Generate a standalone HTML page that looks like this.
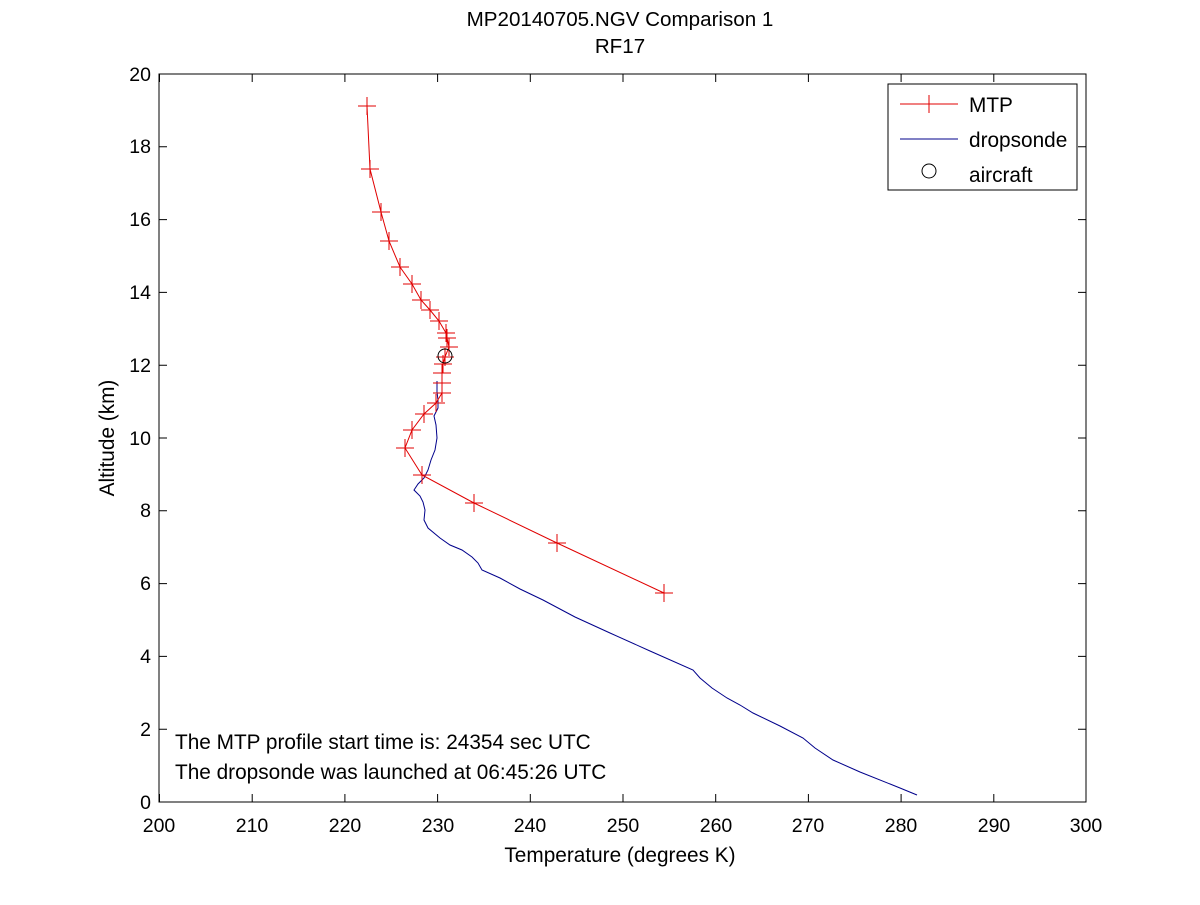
<!DOCTYPE html>
<html><head><style>body{margin:0;background:#fff}</style></head><body>
<svg width="1200" height="900" xmlns="http://www.w3.org/2000/svg" font-family="Liberation Sans, Arial, sans-serif">
<rect width="1200" height="900" fill="#fff"/>
<rect x="159" y="74" width="927" height="728" fill="#fff" stroke="#000" stroke-width="1"/>
<g stroke="#000" stroke-width="1">
<path d="M159.5 802v-8M252.2 802v-8M344.9 802v-8M437.6 802v-8M530.3 802v-8M623 802v-8M715.7 802v-8M808.4 802v-8M901.1 802v-8M993.8 802v-8M159.5 74v8M252.2 74v8M344.9 74v8M437.6 74v8M530.3 74v8M623 74v8M715.7 74v8M808.4 74v8M901.1 74v8M993.8 74v8"/>
<path d="M159 729.2h8M159 656.4h8M159 583.6h8M159 510.8h8M159 438h8M159 365.2h8M159 292.4h8M159 219.6h8M159 146.8h8M1086 729.2h-8M1086 656.4h-8M1086 583.6h-8M1086 510.8h-8M1086 438h-8M1086 365.2h-8M1086 292.4h-8M1086 219.6h-8M1086 146.8h-8"/>
</g>
<g font-size="19.5" text-anchor="middle" fill="#000">
<text x="159" y="832">200</text><text x="252" y="832">210</text><text x="345" y="832">220</text><text x="438" y="832">230</text><text x="530" y="832">240</text><text x="623" y="832">250</text><text x="716" y="832">260</text><text x="808" y="832">270</text><text x="901" y="832">280</text><text x="994" y="832">290</text><text x="1086" y="832">300</text>
</g>
<g font-size="19.5" text-anchor="end" fill="#000">
<text x="151" y="809">0</text><text x="151" y="736">2</text><text x="151" y="663">4</text><text x="151" y="590">6</text><text x="151" y="517">8</text><text x="151" y="445">10</text><text x="151" y="372">12</text><text x="151" y="299">14</text><text x="151" y="226">16</text><text x="151" y="153">18</text><text x="151" y="81">20</text>
</g>
<text x="620" y="862" font-size="20.8" text-anchor="middle">Temperature (degrees K)</text>
<text transform="translate(114,438) rotate(-90)" font-size="20.8" text-anchor="middle">Altitude (km)</text>
<text x="620" y="26" font-size="20.6" text-anchor="middle">MP20140705.NGV Comparison 1</text>
<text x="620" y="53" font-size="20.6" text-anchor="middle">RF17</text>
<polyline fill="none" stroke="#00008b" stroke-width="1" points="437,381 437,392 438,400 438,408 434,416 436,425 437,438 435,450 431,460 428,470 424,478 418,484 414,490 420,496 423,502 425,510 424,520 428,528 440,538 450,545 462,550 472,557 478,563 482,570 500,578 520,589 543,600 575,617 610,633 650,651 693,670 700,678 712,688 727,698 740,705 753,713 780,726 803,738 815,748 833,760 860,772 900,788 917,795"/>
<polyline fill="none" stroke="#e00000" stroke-width="1" points="367,106 370,169 381,212 389,241 400,267 412,284 421,300 430,310 439,321 446,333 447,338 449,347 445,357 443,364 442,373 442,383 442,393 436,403 424,414 412,430 405,448 422,475 474,503 557,543 664,593"/>
<g stroke="#e00000" stroke-width="1">
<path d="M358 106h18M367 97v18M361 169h18M370 160v18M372 212h18M381 203v18M380 241h18M389 232v18M391 267h18M400 258v18M403 284h18M412 275v18M412 300h18M421 291v18M421 310h18M430 301v18M430 321h18M439 312v18M437 333h18M446 324v18M438 338h18M447 329v18M440 347h18M449 338v18M436 357h18M445 348v18M434 364h18M443 355v18M433 373h18M442 364v18M433 383h18M442 374v18M433 393h18M442 384v18M427 403h18M436 394v18M415 414h18M424 405v18M403 430h18M412 421v18M396 448h18M405 439v18M413 475h18M422 466v18M465 503h18M474 494v18M548 543h18M557 534v18M655 593h18M664 584v18"/>
</g>
<circle cx="445" cy="356" r="7" fill="none" stroke="#000"/>
<rect x="888" y="84" width="189" height="106" fill="#fff" stroke="#000"/>
<line x1="900" y1="104" x2="958" y2="104" stroke="#e00000"/><path d="M920 104h18M929 95v18" stroke="#e00000"/>
<text x="969" y="112" font-size="20.8">MTP</text>
<line x1="900" y1="139" x2="958" y2="139" stroke="#00008b"/>
<text x="969" y="147" font-size="20.8">dropsonde</text>
<circle cx="929" cy="171" r="7" fill="none" stroke="#000"/>
<text x="969" y="182" font-size="20.8">aircraft</text>
<text x="175" y="749" font-size="20.8">The MTP profile start time is: 24354 sec UTC</text>
<text x="175" y="779" font-size="20.8">The dropsonde was launched at 06:45:26 UTC</text>
</svg>
</body></html>
